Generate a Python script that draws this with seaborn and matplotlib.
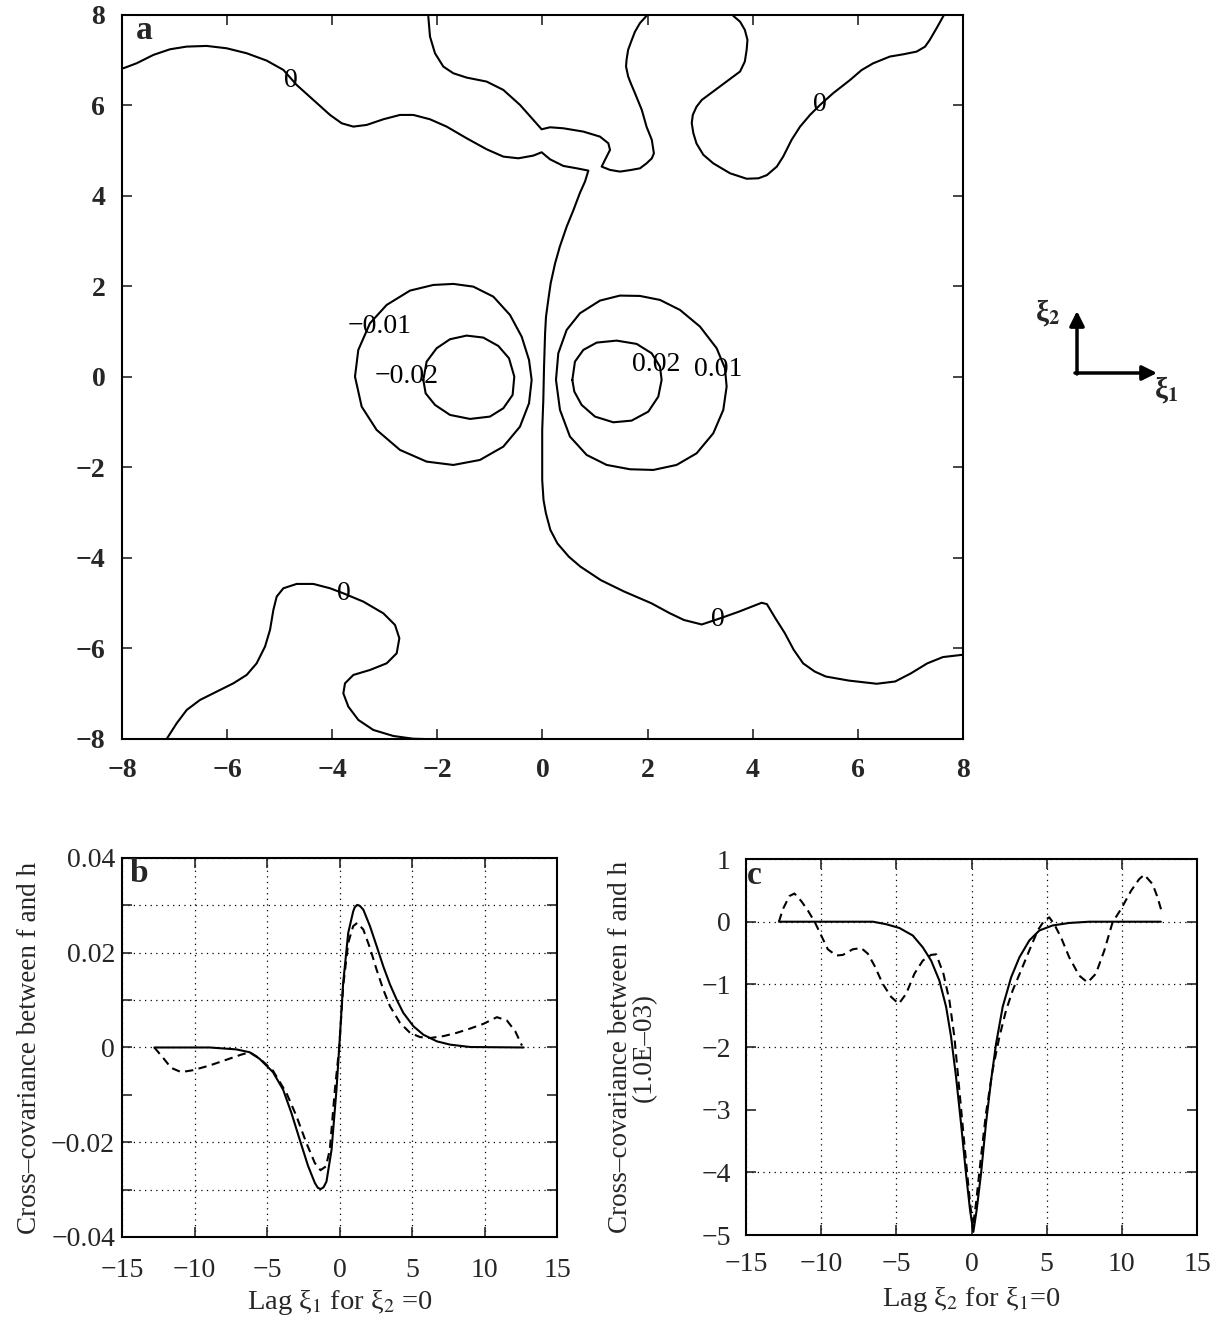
import matplotlib
matplotlib.use("Agg")
import matplotlib.pyplot as plt
import seaborn as sns

# ---------------- panel a: contour lines of the 2-D cross-covariance ----------------
# zero contour running from the left edge, down through the centre to the right edge
zero_main_x = [-7.975, -7.721, -7.404, -7.087, -6.770, -6.389, -6.009, -5.628, -5.248, -4.930,
               -4.677, -4.360, -4.042, -3.821, -3.599, -3.345, -3.028, -2.711, -2.457, -2.140,
               -1.823, -1.442, -1.062, -0.745, -0.459, -0.174, -0.016, 0.143, 0.397, 0.650,
               0.873, 0.81, 0.71, 0.59, 0.46, 0.33, 0.24, 0.156, 0.11, 0.067, 0.05, 0.03,
               0.016, -0.005, -0.005, -0.005, 0.02, 0.065, 0.15, 0.285, 0.50, 0.72, 1.11,
               1.55, 2.07, 2.42, 2.69, 3.03, 3.34, 3.73, 4.17, 4.27, 4.43, 4.61, 4.78, 4.96,
               5.18, 5.39, 5.83, 6.36, 6.71, 7.01, 7.32, 7.62, 7.99]
zero_main_y = [6.821, 6.932, 7.116, 7.241, 7.300, 7.315, 7.263, 7.153, 6.991, 6.785,
               6.453, 6.122, 5.790, 5.606, 5.532, 5.569, 5.694, 5.790, 5.790, 5.694,
               5.532, 5.274, 5.031, 4.869, 4.832, 4.891, 4.965, 4.810, 4.663, 4.611,
               4.560, 4.32, 4.06, 3.69, 3.32, 2.88, 2.51, 2.07, 1.70, 1.33, 0.97, 0.23,
               -0.51, -1.17, -1.70, -2.28, -2.72, -3.01, -3.38, -3.68, -3.97, -4.19, -4.49,
               -4.74, -5.00, -5.22, -5.37, -5.47, -5.35, -5.19, -4.99, -5.02, -5.33, -5.66,
               -6.03, -6.33, -6.51, -6.62, -6.71, -6.78, -6.73, -6.55, -6.33, -6.19, -6.14]

# zero contour hanging from the top edge near the centre
zero_top_x = [-2.172, -2.140, -2.045, -1.886, -1.696, -1.442, -1.062, -0.745, -0.427, -0.174,
              -0.016, 0.143, 0.397, 0.777, 1.094, 1.253, 1.285, 1.189, 1.126, 1.285, 1.475,
              1.665, 1.855, 1.98, 2.08, 2.12, 2.08, 1.98, 1.89, 1.76, 1.68, 1.63, 1.59,
              1.60, 1.63, 1.70, 1.76, 1.855, 1.98]
zero_top_y = [7.963, 7.521, 7.153, 6.858, 6.711, 6.615, 6.527, 6.343, 6.011, 5.680,
              5.473, 5.517, 5.495, 5.422, 5.311, 5.164, 5.017, 4.796, 4.648, 4.575, 4.538,
              4.57, 4.61, 4.72, 4.83, 4.94, 5.24, 5.53, 5.90, 6.27, 6.49, 6.64, 6.86,
              7.01, 7.23, 7.45, 7.63, 7.82, 7.98]

# zero contour in the upper right
zero_ne_x = [3.63, 3.76, 3.85, 3.90, 3.885, 3.85, 3.76, 3.505, 3.25, 3.03, 2.93, 2.86, 2.84,
             2.87, 2.93, 3.06, 3.25, 3.57, 3.885, 4.11, 4.27, 4.46, 4.58, 4.74, 4.90, 5.09,
             5.28, 5.53, 5.85, 6.07, 6.29, 6.61, 6.865, 7.12, 7.28, 7.37, 7.50, 7.63]
zero_ne_y = [7.98, 7.85, 7.67, 7.45, 7.23, 6.97, 6.75, 6.53, 6.31, 6.12, 5.97, 5.79, 5.61,
             5.39, 5.16, 4.91, 4.72, 4.50, 4.38, 4.39, 4.46, 4.65, 4.87, 5.24, 5.53, 5.79,
             6.01, 6.27, 6.56, 6.78, 6.93, 7.08, 7.13, 7.19, 7.30, 7.45, 7.71, 7.98]

# zero contour in the lower left
zero_sw_x = [-7.150, -6.960, -6.769, -6.516, -6.199, -5.881, -5.628, -5.438, -5.279, -5.184,
             -5.120, -5.057, -4.930, -4.677, -4.359, -4.042, -3.789, -3.408, -3.028, -2.806,
             -2.723, -2.774, -2.964, -3.281, -3.598, -3.757, -3.789, -3.694, -3.503, -3.218,
             -2.837, -2.457, -2.267]
zero_sw_y = [-8.0, -7.654, -7.359, -7.138, -6.954, -6.770, -6.585, -6.328, -5.959, -5.591,
             -5.149, -4.854, -4.670, -4.574, -4.574, -4.670, -4.781, -4.965, -5.223, -5.480,
             -5.775, -6.107, -6.328, -6.475, -6.585, -6.770, -6.991, -7.285, -7.580, -7.801,
             -7.934, -7.995, -8.0]

# -0.01 and -0.02 contours (left lobe)
neg01_x = [-3.567, -3.504, -3.282, -2.965, -2.521, -2.077, -1.696, -1.316, -0.935, -0.618,
           -0.396, -0.256, -0.206, -0.256, -0.428, -0.745, -1.189, -1.696, -2.204, -2.711,
           -3.155, -3.440, -3.567]
neg01_y = [0.007, 0.597, 1.186, 1.591, 1.908, 2.033, 2.056, 1.996, 1.775, 1.370,
           0.891, 0.376, -0.066, -0.582, -1.098, -1.540, -1.834, -1.945, -1.871, -1.613,
           -1.171, -0.656, 0.007]
neg02_x = [-2.267, -2.204, -2.014, -1.760, -1.443, -1.126, -0.840, -0.637, -0.536, -0.568,
           -0.745, -0.999, -1.379, -1.760, -2.045, -2.223, -2.267]
neg02_y = [-0.066, 0.339, 0.634, 0.833, 0.914, 0.870, 0.685, 0.413, 0.008, -0.397,
           -0.692, -0.876, -0.928, -0.839, -0.618, -0.361, -0.066]

# 0.01 and 0.02 contours (right lobe)
pos01_x = [0.257, 0.301, 0.460, 0.713, 1.094, 1.474, 1.855, 2.236, 2.616, 2.997, 3.314,
           3.472, 3.504, 3.440, 3.250, 2.933, 2.553, 2.109, 1.665, 1.221, 0.840, 0.523,
           0.333, 0.257]
pos01_y = [-0.066, 0.523, 1.039, 1.407, 1.687, 1.798, 1.790, 1.702, 1.481, 1.113, 0.634,
           0.192, -0.213, -0.729, -1.245, -1.687, -1.944, -2.055, -2.040, -1.944, -1.723,
           -1.318, -0.729, -0.066]
pos02_x = [0.568, 0.618, 0.777, 1.031, 1.411, 1.792, 2.077, 2.236, 2.267, 2.204, 2.014,
           1.696, 1.348, 0.999, 0.745, 0.606, 0.568]
pos02_y = [-0.066, 0.339, 0.597, 0.759, 0.803, 0.730, 0.523, 0.229, -0.066, -0.434, -0.766,
           -0.965, -1.002, -0.876, -0.618, -0.324, -0.066]

contour_label_text = ["0", "0", "0", "0", "\u22120.01", "\u22120.02", "0.02", "0.01"]
contour_label_x = [-4.79, 5.28, -3.78, 3.34, -3.09, -2.58, 2.17, 3.35]
contour_label_y = [6.56, 6.01, -4.78, -5.35, 1.11, 0.01, 0.27, 0.155]

# ---------------- panel b: section along xi_1 (xi_2 = 0) ----------------
b_lag_solid = [-12.77, -8.96, -7.12, -6.20, -5.51, -4.59, -3.89, -3.32, -2.74, -2.17, -1.70,
               -1.50, -1.31, -1.10, -0.90, -0.55, -0.21, -0.02, 0.25, 0.60, 0.94, 1.05, 1.22,
               1.40, 1.64, 2.10, 2.56, 3.02, 3.48, 3.94, 4.40, 5.09, 5.78, 6.71, 7.63, 9.01,
               12.70]
b_solid = [0.0, 0.0, -0.0004, -0.001, -0.0024, -0.0052, -0.0089, -0.0138, -0.0195, -0.025,
           -0.0286, -0.0296, -0.0299, -0.0295, -0.0283, -0.0216, -0.0089, 0.0, 0.0136, 0.0242,
           0.0287, 0.0296, 0.0301, 0.0299, 0.0291, 0.0256, 0.0214, 0.0171, 0.0133, 0.0101,
           0.0073, 0.0045, 0.0027, 0.0013, 0.0006, 0.0001, 0.0]
b_lag_dashed = [-12.77, -12.19, -11.61, -10.92, -10.12, -8.96, -7.81, -6.77, -6.20, -5.51,
                -4.59, -3.66, -2.97, -2.28, -1.70, -1.31, -0.94, -0.67, -0.32, -0.02, 0.25,
                0.60, 0.94, 1.22, 1.64, 2.10, 2.56, 3.02, 3.48, 4.17, 4.86, 5.55, 6.24, 7.17,
                8.09, 9.01, 9.93, 10.85, 11.54, 12.12, 12.58]
b_dashed = [0.0, -0.0021, -0.0043, -0.0052, -0.0048, -0.0038, -0.0026, -0.0015, -0.001,
            -0.0023, -0.0049, -0.0096, -0.0145, -0.0202, -0.0244, -0.0259, -0.0251, -0.0216,
            -0.0089, 0.0, 0.0129, 0.0221, 0.0256, 0.0263, 0.0249, 0.0210, 0.0164, 0.0122,
            0.0087, 0.0052, 0.0031, 0.0022, 0.0020, 0.0024, 0.0031, 0.0040, 0.0050, 0.0064,
            0.0057, 0.0034, 0.0004]
b_xticks = [-15, -10, -5, 0, 5, 10, 15]
b_yticks = [-0.04, -0.03, -0.02, -0.01, 0.0, 0.01, 0.02, 0.03, 0.04]
b_yticklabels = ["\u22120.04", "", "\u22120.02", "", "0", "", "0.02", "", "0.04"]

# ---------------- panel c: section along xi_2 (xi_1 = 0), units of 1e-3 ----------------
c_lag_solid = [-12.81, -6.56, -5.68, -4.80, -3.91, -3.24, -2.69, -2.14, -1.69, -1.36, -1.03,
               -0.70, -0.37, -0.10, 0.12, 0.34, 0.63, 0.96, 1.30, 1.63, 2.07, 2.63, 3.18,
               3.84, 4.51, 5.39, 6.50, 7.83, 12.59]
c_solid = [0.0, 0.0, -0.04, -0.10, -0.22, -0.41, -0.62, -0.94, -1.36, -1.84, -2.48, -3.22,
           -4.02, -4.60, -4.95, -4.60, -4.02, -3.22, -2.53, -1.95, -1.36, -0.89, -0.57, -0.30,
           -0.14, -0.06, -0.02, 0.0, 0.0]
c_lag_dashed = [-12.81, -12.55, -12.11, -11.78, -11.33, -10.89, -10.44, -10.0, -9.56, -9.0,
                -8.56, -7.90, -7.34, -6.90, -6.46, -5.91, -5.35, -4.84, -4.35, -3.80, -3.24,
                -2.69, -2.35, -1.87, -1.47, -1.14, -0.81, -0.48, -0.14, 0.08, 0.30, 0.63,
                0.96, 1.40, 1.85, 2.29, 2.73, 3.29, 3.84, 4.40, 4.84, 5.17, 5.50, 5.95, 6.50,
                7.16, 7.72, 8.27, 8.83, 9.38, 9.94, 10.60, 11.15, 11.49, 12.04, 12.37, 12.66]
c_dashed = [0.0, 0.20, 0.41, 0.45, 0.33, 0.18, 0.0, -0.22, -0.44, -0.54, -0.53, -0.44, -0.42,
            -0.51, -0.70, -0.99, -1.20, -1.31, -1.15, -0.83, -0.62, -0.53, -0.52, -0.83, -1.26,
            -1.84, -2.69, -3.54, -4.39, -4.88, -4.49, -3.75, -3.06, -2.37, -1.84, -1.42, -1.10,
            -0.78, -0.46, -0.14, 0.02, 0.07, -0.04, -0.25, -0.57, -0.86, -0.97, -0.83, -0.46,
            -0.01, 0.20, 0.49, 0.68, 0.75, 0.60, 0.39, 0.15]
c_xticks = [-15, -10, -5, 0, 5, 10, 15]
c_yticks = [-5, -4, -3, -2, -1, 0, 1]
c_yticklabels = ["\u22125", "\u22124", "\u22123", "\u22122", "\u22121", "0", "1"]

a_ticks = [-8, -6, -4, -2, 0, 2, 4, 6, 8]
a_ticklabels = ["\u22128", "\u22126", "\u22124", "\u22122", "0", "2", "4", "6", "8"]

# ---------------- styling ----------------
sns.set_theme(style="ticks")
plt.rcParams["font.family"] = ["Liberation Serif", "DejaVu Serif"]
plt.rcParams["mathtext.fontset"] = "stix"
plt.rcParams["axes.linewidth"] = 1.5
plt.rcParams["axes.edgecolor"] = "black"
plt.rcParams["lines.solid_joinstyle"] = "round"
plt.rcParams["lines.dash_joinstyle"] = "round"

INK = "black"
TICK_FS = 20
fig = plt.figure(figsize=(12.2, 13.21), dpi=100)
fig.patch.set_facecolor("white")

ax_a = fig.add_axes([0.1000, 0.4406, 0.6893, 0.5481])
ax_b = fig.add_axes([0.1000, 0.0636, 0.3566, 0.2869])
ax_c = fig.add_axes([0.6115, 0.0651, 0.3697, 0.2846])


def draw_path(ax, xs, ys, **kw):
    sns.lineplot(x=xs, y=ys, ax=ax, sort=False, estimator=None, color=INK,
                 linewidth=1.5, **kw)


# panel a
for xs, ys in [(zero_main_x, zero_main_y), (zero_top_x, zero_top_y),
               (zero_ne_x, zero_ne_y), (zero_sw_x, zero_sw_y),
               (neg01_x, neg01_y), (neg02_x, neg02_y),
               (pos01_x, pos01_y), (pos02_x, pos02_y)]:
    draw_path(ax_a, xs, ys)
for txt, x, y in zip(contour_label_text, contour_label_x, contour_label_y):
    ax_a.text(x, y, txt, ha="center", va="center", fontsize=20, color=INK)

ax_a.set_xlim(-8, 8)
ax_a.set_ylim(-8, 8)
ax_a.set_xticks(a_ticks)
ax_a.set_xticklabels(a_ticklabels)
ax_a.set_yticks(a_ticks)
ax_a.set_yticklabels(a_ticklabels)
ax_a.tick_params(direction="in", top=True, right=True, length=7, width=1.2,
                 labelsize=TICK_FS)
ax_a.tick_params(axis="x", pad=14)
ax_a.tick_params(axis="y", pad=12)
for lab in ax_a.get_xticklabels() + ax_a.get_yticklabels():
    lab.set_fontweight("bold")
ax_a.set_xlabel("")
ax_a.set_ylabel("")
ax_a.text(0.026, 0.978, "a", transform=ax_a.transAxes, ha="center", va="center",
          fontsize=24, fontweight="bold")

# coordinate arrows beside panel a
arrow_kw = dict(arrowstyle="-|>", color=INK, lw=2.5, mutation_scale=22,
                shrinkA=0, shrinkB=0)
ax_a.annotate("", xy=(1077, 1010), xytext=(1077, 947), xycoords="figure pixels",
              textcoords="figure pixels", arrowprops=arrow_kw, annotation_clip=False)
ax_a.annotate("", xy=(1157, 948), xytext=(1075, 948), xycoords="figure pixels",
              textcoords="figure pixels", arrowprops=arrow_kw, annotation_clip=False)
fig.text(1048 / 1220, 1 - 313 / 1321, "ξ$_\\mathbf{2}$", ha="center", va="center",
         fontsize=21, fontweight="bold")
fig.text(1166 / 1220, 1 - 390 / 1321, "ξ$_\\mathbf{1}$", ha="center", va="center",
         fontsize=21, fontweight="bold")

# panels b and c
dash_style = (0, (4, 2.6))
draw_path(ax_b, b_lag_solid, b_solid)
draw_path(ax_b, b_lag_dashed, b_dashed, linestyle=dash_style)
draw_path(ax_c, c_lag_solid, c_solid)
draw_path(ax_c, c_lag_dashed, c_dashed, linestyle=dash_style)

ax_b.set_xlim(-15, 15)
ax_b.set_ylim(-0.04, 0.04)
ax_b.set_xticks(b_xticks)
ax_b.set_xticklabels([str(t).replace("-", "\u2212") for t in b_xticks])
ax_b.set_yticks(b_yticks)
ax_b.set_yticklabels(b_yticklabels)

ax_c.set_xlim(-15, 15)
ax_c.set_ylim(-5, 1)
ax_c.set_xticks(c_xticks)
ax_c.set_xticklabels([str(t).replace("-", "\u2212") for t in c_xticks])
ax_c.set_yticks(c_yticks)
ax_c.set_yticklabels(c_yticklabels)

grid_kw = dict(color=INK, linestyle=(0, (1, 3.5)), linewidth=0.9)
for ax in (ax_b, ax_c):
    ax.grid(True, **grid_kw)
    ax.tick_params(direction="in", top=True, right=True, length=7, width=1.2,
                   labelsize=TICK_FS)

ax_b.tick_params(axis="x", pad=15)
ax_b.tick_params(axis="y", pad=5)
ax_c.tick_params(axis="x", pad=12)
ax_c.tick_params(axis="y", pad=11)

# sparse grid: no dotted rule at -0.01 (b) or -3 (c)
for line, val in zip(ax_b.get_ygridlines(), b_yticks):
    if abs(val + 0.01) < 1e-9:
        line.set_visible(False)
for line, val in zip(ax_c.get_ygridlines(), c_yticks):
    if val == -3:
        line.set_visible(False)

ax_b.set_xlabel("Lag ξ$_1$ for ξ$_2$ =0", fontsize=20.5, va="center")
ax_b.xaxis.set_label_coords(0.5, -0.172)
ax_b.set_ylabel("Cross\u2013covariance between f and h", fontsize=19.5, va="center")
ax_b.yaxis.set_label_coords(-0.2115, 0.5)

ax_c.set_xlabel("Lag ξ$_2$ for ξ$_1$=0", fontsize=20.5, va="center")
ax_c.xaxis.set_label_coords(0.5, -0.172)
ax_c.set_ylabel("Cross\u2013covariance between f and h\n(1.0E\u201303)", fontsize=19.5,
                va="center", linespacing=0.95)
ax_c.yaxis.set_label_coords(-0.251, 0.5)

ax_b.text(0.039, 0.96, "b", transform=ax_b.transAxes, ha="center", va="center",
          fontsize=24, fontweight="bold")
ax_c.text(0.018, 0.955, "c", transform=ax_c.transAxes, ha="center", va="center",
          fontsize=24, fontweight="bold")

for ax in (ax_a, ax_b, ax_c):
    for sp in ax.spines.values():
        sp.set_visible(True)
        sp.set_linewidth(1.5)
        sp.set_color(INK)

fig.savefig("out.png", dpi=100, facecolor="white")
